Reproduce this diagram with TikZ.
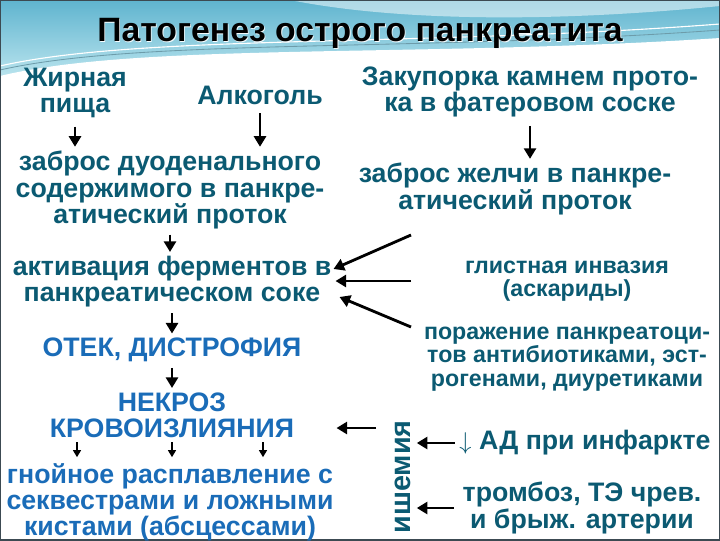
\documentclass[tikz,border=0pt]{standalone}
\usepackage{fontspec}
\setmainfont{Liberation Sans}
\usepackage{tikz}
\usetikzlibrary{positioning, calc, arrows, arrows.meta}
\usepackage{xcolor}
\definecolor{dteal}{HTML}{0B5A72}
\definecolor{lblue}{HTML}{1A6CB8}
\definecolor{bandtop}{HTML}{5FB4CF}
\definecolor{bandbot}{HTML}{BDE6EF}
\definecolor{frame}{HTML}{3C4A52}

\begin{document}
\begin{tikzpicture}[x=0.025cm, y=-0.025cm, node distance=2cm,
  txt/.style={font=\bfseries\fontsize{19}{18.6}\selectfont, text=dteal, align=center, inner sep=0pt},
  small/.style={txt, font=\bfseries\fontsize{16.5}{16.5}\selectfont},
  stage/.style={txt, text=lblue},
  arr/.style={-{Triangle[length=7.5pt, width=8.5pt]}, line width=2pt, black},
  tiny/.style={-{Triangle[length=5pt, width=5.5pt]}, line width=1.3pt, black}]
% background
\useasboundingbox (0,0) rectangle (720,540);
\fill[top color=bandtop, bottom color=bandbot] (0,0) rectangle (720,80);
\fill[white] (0,76) .. controls (140,42) and (420,58) .. (720,38) -- (720,540) -- (0,540) -- cycle;
\draw[dteal!60, line width=0.6pt] (0,70) .. controls (140,38) and (420,52) .. (720,30);
\draw[white, line width=0.8pt] (0,66) .. controls (140,34) and (420,47) .. (720,24);
\fill[white, opacity=0.5] (290,0) .. controls (400,22) and (560,22) .. (720,6) -- (720,0) -- cycle;
\draw[frame, line width=1.5pt] (0,0) rectangle (720,540);
% title
\node[font=\bfseries\fontsize{24}{28}\selectfont, text=white!85!bandbot] at (360.8,34.2) {Патогенез острого панкреатита};
\node[font=\bfseries\fontsize{24}{28}\selectfont] (title) at (360,33) {Патогенез острого панкреатита};
% nodes
\node[txt] (fat) at (75,93) {Жирная\\пища};
\node[txt] (alc) at (260,95) {Алкоголь};
\node[txt] (stone) at (530,92) {Закупорка камнем прото-\\ка в фатеровом соске};
\node[txt] (duod) at (170,190) {заброс дуоденального\\содержимого в панкре-\\атический проток};
\node[txt] (bile) at (515,189) {заброс желчи в панкре-\\атический проток};
\node[txt] (act) at (172,282) {активация ферментов в\\панкреатическом соке};
\node[small] (worm) at (567,281) {глистная инвазия\\(аскариды)};
\node[stage] (edema) at (172,350) {ОТЕК, ДИСТРОФИЯ};
\node[small] (drug) at (567,359) {поражение панкреатоци-\\тов антибиотиками, эст-\\рогенами, диуретиками};
\node[stage] (necr) at (172,415) {НЕКРОЗ\\КРОВОИЗЛИЯНИЯ};
\node[stage] (pus) at (170,502) {гнойное расплавление с\\секвестрами и ложными\\кистами (абсцессами)};
\node[txt, font=\bfseries\fontsize{20.5}{20}\selectfont, rotate=90] (isch) at (403,477) {ишемия};
\node[txt] (ad) at (585,443) {$\downarrow$ АД при инфаркте};
\node[txt] (thromb) at (582,508) {тромбоз, ТЭ чрев.\\и брыж. артерии};
% arrow tails
\coordinate (t1) at (411,235);
\coordinate (t2) at (411,281);
\coordinate (t3) at (411,327);
\coordinate (t4) at (376,428);
% arrows
\draw[arr, shorten <=6pt, shorten >=3pt] (fat.south) -- (fat.south |- duod.north);
\draw[arr, shorten <=6pt, shorten >=3pt] (alc.south) -- (alc.south |- duod.north);
\draw[arr, shorten <=6pt, shorten >=3pt] (stone.south) -- (stone.south |- bile.north);
\draw[arr, shorten <=4pt, shorten >=3pt] (duod.south) -- (duod.south |- act.north);
\draw[arr, shorten <=4pt, shorten >=3pt] (act.south) -- (act.south |- edema.north);
\draw[arr, shorten <=4pt, shorten >=3pt] (edema.south) -- (edema.south |- necr.north);
\foreach \dx in {-95,0,91}
  \draw[tiny, shorten <=3pt, shorten >=4pt] ($(necr.south)+(\dx,0)$) -- ($(necr.south |- pus.north)+(\dx,0)$);
\draw[arr] (t1) -- ($(act.east)+(2,-13)$);
\draw[arr] (t2) -- ($(t2 -| act.east)+(4,0)$);
\draw[arr] (t3) -- ($(act.east)+(8,15)$);
\draw[arr, shorten >=30pt] (t4) -- (t4 -| necr.east);
\draw[arr, shorten <=3pt, shorten >=4pt] (ad.west) -- (ad.west -| isch.south);
\draw[arr, shorten <=6pt, shorten >=4pt] (thromb.west) -- (thromb.west -| isch.south);
\end{tikzpicture}
\end{document}
